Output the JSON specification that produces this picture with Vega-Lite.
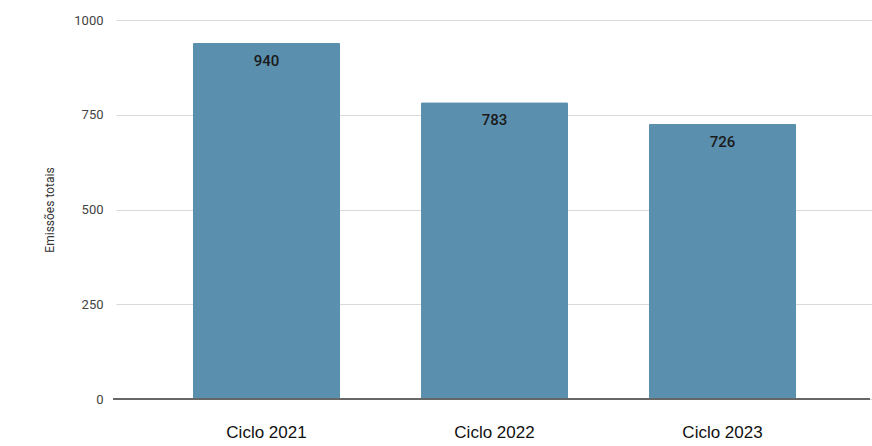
{
  "$schema": "https://vega.github.io/schema/vega-lite/v6.json",
  "width": 757,
  "height": 379,
  "autosize": "none",
  "padding": {"left": 113, "top": 20, "right": 2, "bottom": 47},
  "background": "white",
  "config": {"view": {"stroke": null}},
  "data": {
    "values": [
      {"ciclo": "Ciclo 2021", "emissoes": 940},
      {"ciclo": "Ciclo 2022", "emissoes": 783},
      {"ciclo": "Ciclo 2023", "emissoes": 726}
    ]
  },
  "encoding": {
    "x": {
      "field": "ciclo",
      "type": "nominal",
      "sort": null,
      "title": null,
      "scale": {"paddingInner": 0.355, "paddingOuter": 0.3375, "range": [3, 760]},
      "axis": {
        "labelAngle": 0,
        "labelFont": "Liberation Sans",
        "labelFontSize": 17,
        "labelColor": "#111",
        "labelPadding": 25,
        "ticks": false,
        "domain": false
      }
    },
    "y": {
      "field": "emissoes",
      "type": "quantitative",
      "title": "Emissões totais",
      "scale": {"domain": [0, 1000]},
      "axis": {
        "values": [0, 250, 500, 750, 1000],
        "format": "d",
        "domain": false,
        "ticks": false,
        "gridColor": "#d9d9d9",
        "labelFont": "Roboto",
        "labelFontSize": 13,
        "labelColor": "#444",
        "labelPadding": 10,
        "titleFont": "Roboto",
        "titleFontSize": 12,
        "titleFontWeight": "normal",
        "titleColor": "#333",
        "titleX": -57
      }
    }
  },
  "layer": [
    {
      "mark": {"type": "bar", "color": "#5a8fae", "cornerRadiusTopLeft": 1.5, "cornerRadiusTopRight": 1.5}
    },
    {
      "mark": {"type": "text", "baseline": "middle", "dy": 18, "font": "Roboto", "fontSize": 15, "fontWeight": 500, "color": "#1a1a1a"},
      "encoding": {"text": {"field": "emissoes", "type": "quantitative"}}
    },
    {
      "mark": {"type": "rule", "color": "#666", "strokeWidth": 1.5},
      "encoding": {"y": {"datum": 0, "type": "quantitative"}, "x": null}
    }
  ]
}
